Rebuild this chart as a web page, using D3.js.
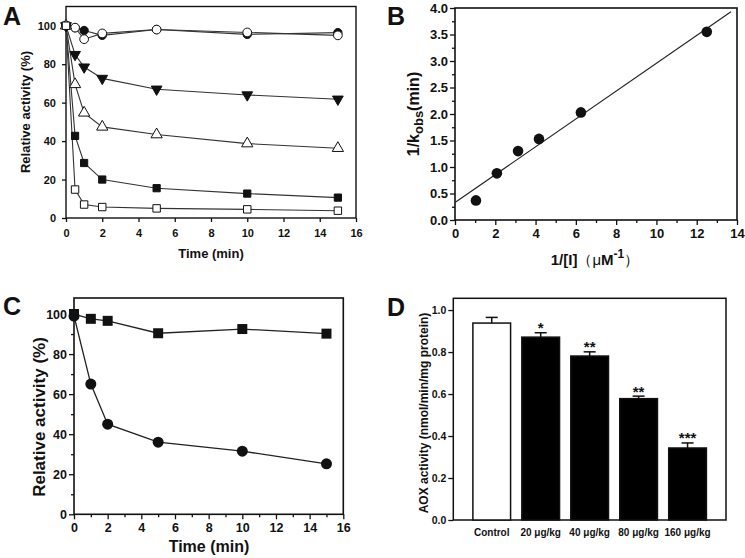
<!DOCTYPE html>
<html><head><meta charset="utf-8">
<script src="https://cdn.jsdelivr.net/npm/d3@7"></script>
<style>body{margin:0;background:#fff}svg{display:block}text{font-family:"Liberation Sans",Arial,sans-serif}</style>
</head><body>
<script>
// ---- Panel A data ----
const timeA = [0, 0.5, 1, 2, 5, 10, 15];
const aFilledCircle = [100, 99, 97.5, 95, 98, 95.5, 96.4];
const aOpenCircle = [100, 99, 93, 96, 98, 96.5, 95];
const aFilledDown = [100, 85, 78.5, 72.6, 67, 64, 61.8];
const aOpenUp = [100, 69.5, 54.7, 47.4, 43.4, 38.7, 36.3];
const aFilledSquare = [100, 42.7, 28.6, 20, 15.5, 12.7, 10.6];
const aOpenSquare = [100, 14.8, 7, 5.7, 5, 4.5, 3.8];
const ticksA_x = [0, 2, 4, 6, 8, 10, 12, 14, 16];
const ticksA_y = [0, 20, 40, 60, 80, 100];
// ---- Panel B data ----
const invI = [1.04, 2.08, 3.13, 4.17, 6.25, 12.5];
const invK = [0.37, 0.88, 1.30, 1.53, 2.03, 3.55];
const fitX = [0, 13.7];
const fitY = [0.33, 3.93];
const ticksB_x = [0, 2, 4, 6, 8, 10, 12, 14];
const ticksB_y = [0, 0.5, 1, 1.5, 2, 2.5, 3, 3.5, 4];
// ---- Panel C data ----
const timeC = [0, 1, 2, 5, 10, 15];
const cSquare = [100, 97.6, 96.6, 90.4, 92.5, 90.2];
const cCircle = [99, 65, 45, 36, 31.5, 25.2];
const ticksC_x = [0, 2, 4, 6, 8, 10, 12, 14, 16];
const ticksC_y = [0, 20, 40, 60, 80, 100];
// ---- Panel D data ----
const groupsD = ["Control", "20 μg/kg", "40 μg/kg", "80 μg/kg", "160 μg/kg"];
const valuesD = [0.938, 0.871, 0.781, 0.578, 0.343];
const errorsD = [0.027, 0.021, 0.02, 0.012, 0.024];
const sigD = ["", "*", "**", "**", "***"];
const ticksD_y = [0, 0.2, 0.4, 0.6, 0.8, 1.0];

const W = 745, H = 558;
const svg = d3.select("body").append("svg").attr("width", W).attr("height", H);
svg.append("rect").attr("width", W).attr("height", H).attr("fill", "#fff");

function frame(x, y) {
  const [x0, x1] = x.range ? (Array.isArray(x) ? x : x.range()) : x;
  return null;
}
function box(g, x0, x1, y0, y1, sw) {
  g.append("rect").attr("x", x0).attr("y", y1).attr("width", x1 - x0).attr("height", y0 - y1)
    .attr("fill", "none").attr("stroke", "#111").attr("stroke-width", sw);
}
function styleAxis(sel, fs) {
  sel.select(".domain").remove();
  sel.selectAll("line").attr("stroke", "#111").attr("stroke-width", 1.3);
  sel.selectAll("text").attr("font-size", fs).attr("font-weight", "bold").attr("fill", "#111")
    .attr("font-family", '"Liberation Sans",Arial,sans-serif');
}
function letter(t, x, y) {
  svg.append("text").attr("x", x).attr("y", y).text(t).attr("font-size", 25).attr("font-weight", "bold").attr("fill", "#111");
}

// ================= Panel A =================
{
  const x = d3.scaleLinear().domain([0, 16]).range([66, 356]);
  const y = d3.scaleLinear().domain([0, 110]).range([218, 6.5]);
  const g = svg.append("g");
  g.append("g").attr("transform", `translate(0,${y(0)})`)
    .call(d3.axisBottom(x).tickValues(ticksA_x).tickFormat(d3.format("d")).tickSize(4).tickPadding(7))
    .call(s => styleAxis(s, 11));
  g.append("g").attr("transform", `translate(${x(0)},0)`)
    .call(d3.axisLeft(y).tickValues(ticksA_y).tickSize(4).tickPadding(6))
    .call(s => styleAxis(s, 11));
  box(g, x(0), x(16), y(0), y(110), 1.4);
  const series = [
    {v: aFilledCircle, sym: d3.symbolCircle, size: 55, fill: "#111", rot: 0},
    {v: aOpenCircle, sym: d3.symbolCircle, size: 60, fill: "#fff", rot: 0},
    {v: aFilledDown, sym: d3.symbolTriangle, size: 50, fill: "#111", rot: 180},
    {v: aOpenUp, sym: d3.symbolTriangle, size: 55, fill: "#fff", rot: 0},
    {v: aFilledSquare, sym: d3.symbolSquare, size: 52, fill: "#111", rot: 0},
    {v: aOpenSquare, sym: d3.symbolSquare, size: 55, fill: "#fff", rot: 0}
  ];
  const line = d3.line().x((d, i) => x(timeA[i])).y(d => y(d));
  series.forEach(s => {
    g.append("path").attr("d", line(s.v)).attr("fill", "none").attr("stroke", "#333").attr("stroke-width", 1.1);
  });
  series.forEach(s => {
    g.selectAll(null).data(s.v).enter().append("path")
      .attr("d", d3.symbol(s.sym, s.size))
      .attr("transform", (d, i) => `translate(${x(timeA[i])},${y(d)}) rotate(${s.rot})`)
      .attr("fill", s.fill).attr("stroke", "#111").attr("stroke-width", 1);
  });
  g.append("text").attr("x", 211).attr("y", 258).attr("text-anchor", "middle").attr("font-size", 13)
    .attr("font-weight", "bold").attr("fill", "#111").text("Time (min)");
  g.append("text").attr("transform", "translate(30,112) rotate(-90)").attr("text-anchor", "middle").attr("font-size", 13)
    .attr("font-weight", "bold").attr("fill", "#111").text("Relative activity (%)");
  letter("A", 3, 25);
}

// ================= Panel B =================
{
  const x = d3.scaleLinear().domain([0, 14]).range([455, 737]);
  const y = d3.scaleLinear().domain([0, 4]).range([220, 8]);
  const g = svg.append("g");
  g.append("g").attr("transform", `translate(0,${y(0)})`)
    .call(d3.axisBottom(x).tickValues(d3.range(1, 14, 2)).tickSize(3).tickFormat(""))
    .call(s => styleAxis(s, 12));
  g.append("g").attr("transform", `translate(0,${y(0)})`)
    .call(d3.axisBottom(x).tickValues(ticksB_x).tickFormat(d3.format("d")).tickSize(5).tickPadding(4))
    .call(s => styleAxis(s, 13));
  g.append("g").attr("transform", `translate(${x(0)},0)`)
    .call(d3.axisLeft(y).tickValues(d3.range(0.25, 4, 0.5)).tickSize(3).tickFormat(""))
    .call(s => styleAxis(s, 12));
  g.append("g").attr("transform", `translate(${x(0)},0)`)
    .call(d3.axisLeft(y).tickValues(ticksB_y).tickFormat(d3.format(".1f")).tickSize(5).tickPadding(2))
    .call(s => styleAxis(s, 13));
  box(g, x(0), x(14), y(0), y(4), 1.6);
  g.append("path").attr("d", d3.line().x((d, i) => x(fitX[i])).y(d => y(d))(fitY))
    .attr("fill", "none").attr("stroke", "#222").attr("stroke-width", 1.2);
  g.selectAll(null).data(invK).enter().append("circle")
    .attr("cx", (d, i) => x(invI[i])).attr("cy", d => y(d)).attr("r", 5.3).attr("fill", "#111");
  const yl = g.append("text").attr("transform", "translate(419,114) rotate(-90)").attr("text-anchor", "middle")
    .attr("font-size", 16).attr("font-weight", "bold").attr("fill", "#111");
  yl.append("tspan").text("1/k");
  yl.append("tspan").attr("font-size", 13).attr("dy", 4).text("obs");
  yl.append("tspan").attr("dy", -4).text("(min)");
  const xl = g.append("text").attr("x", 595).attr("y", 265).attr("text-anchor", "middle")
    .attr("font-size", 15).attr("font-weight", "bold").attr("fill", "#111");
  xl.append("tspan").text("1/[I]");
  xl.append("tspan").attr("font-weight", "normal").text("（μ");
  xl.append("tspan").text("M");
  xl.append("tspan").attr("dy", -7).attr("font-size", 12).text("-1");
  xl.append("tspan").attr("dy", 7).attr("font-weight", "normal").text("）");
  letter("B", 387, 25);
}

// ================= Panel C =================
{
  const x = d3.scaleLinear().domain([0, 16]).range([74, 343.3]);
  const y = d3.scaleLinear().domain([0, 108]).range([514.3, 298]);
  const g = svg.append("g");
  g.append("g").attr("transform", `translate(0,${y(0)})`)
    .call(d3.axisBottom(x).tickValues(d3.range(1, 16, 2)).tickSize(3).tickFormat(""))
    .call(s => styleAxis(s, 12));
  g.append("g").attr("transform", `translate(0,${y(0)})`)
    .call(d3.axisBottom(x).tickValues(ticksC_x).tickFormat(d3.format("d")).tickSize(5).tickPadding(4))
    .call(s => styleAxis(s, 12.5));
  g.append("g").attr("transform", `translate(${x(0)},0)`)
    .call(d3.axisLeft(y).tickValues(d3.range(10, 101, 20)).tickSize(3).tickFormat(""))
    .call(s => styleAxis(s, 12));
  g.append("g").attr("transform", `translate(${x(0)},0)`)
    .call(d3.axisLeft(y).tickValues(ticksC_y).tickSize(5).tickPadding(2))
    .call(s => styleAxis(s, 12.5));
  box(g, x(0), x(16), y(0), y(108), 1.6);
  const line = d3.line().x((d, i) => x(timeC[i])).y(d => y(d));
  [cSquare, cCircle].forEach(v => g.append("path").attr("d", line(v)).attr("fill", "none")
    .attr("stroke", "#222").attr("stroke-width", 1.3));
  g.selectAll(null).data(cSquare).enter().append("path").attr("d", d3.symbol(d3.symbolSquare, 100))
    .attr("transform", (d, i) => `translate(${x(timeC[i])},${y(d)})`).attr("fill", "#111");
  g.selectAll(null).data(cCircle).enter().append("circle")
    .attr("cx", (d, i) => x(timeC[i])).attr("cy", d => y(d)).attr("r", 5.5).attr("fill", "#111");
  g.append("text").attr("x", 209).attr("y", 552).attr("text-anchor", "middle").attr("font-size", 16)
    .attr("font-weight", "bold").attr("fill", "#111").text("Time (min)");
  g.append("text").attr("transform", "translate(45,417) rotate(-90)").attr("text-anchor", "middle").attr("font-size", 17)
    .attr("font-weight", "bold").attr("fill", "#111").text("Relative activity (%)");
  letter("C", 3, 315);
}

// ================= Panel D =================
{
  const x = d3.scaleBand().domain(groupsD).range([453.3, 726]).paddingInner(0.23).paddingOuter(0.4);
  const y = d3.scaleLinear().domain([0, 1.056]).range([520, 298.3]);
  const g = svg.append("g");
  g.append("g").attr("transform", `translate(453.3,0)`)
    .call(d3.axisLeft(y).tickValues(ticksD_y).tickFormat(d3.format(".1f")).tickSize(5).tickPadding(2))
    .call(s => styleAxis(s, 10.5));
  box(g, 453.3, 726, y(0), y(1.056), 1.5);
  g.selectAll(null).data(groupsD).enter().append("rect")
    .attr("x", d => x(d)).attr("width", x.bandwidth())
    .attr("y", (d, i) => y(valuesD[i])).attr("height", (d, i) => y(0) - y(valuesD[i]))
    .attr("fill", (d, i) => i === 0 ? "#fff" : "#000").attr("stroke", "#111").attr("stroke-width", 1.5);
  groupsD.forEach((d, i) => {
    const cx = x(d) + x.bandwidth() / 2;
    const top = y(valuesD[i] + errorsD[i]);
    g.append("line").attr("x1", cx).attr("x2", cx).attr("y1", y(valuesD[i])).attr("y2", top)
      .attr("stroke", "#111").attr("stroke-width", 1.5);
    g.append("line").attr("x1", cx - 6).attr("x2", cx + 6).attr("y1", top).attr("y2", top)
      .attr("stroke", "#111").attr("stroke-width", 1.5);
    if (sigD[i]) g.append("text").attr("x", cx).attr("y", top + 0.5).attr("text-anchor", "middle")
      .attr("font-size", 15).attr("font-weight", "bold").attr("fill", "#111").text(sigD[i]);
    g.append("text").attr("x", cx).attr("y", 536).attr("text-anchor", "middle").attr("font-size", 10)
      .attr("font-weight", "bold").attr("fill", "#111").text(d);
  });
  g.append("text").attr("transform", "translate(428,413) rotate(-90)").attr("text-anchor", "middle").attr("font-size", 12)
    .attr("font-weight", "bold").attr("fill", "#111").text("AOX activity (nmol/min/mg protein)");
  letter("D", 387, 316);
}
</script>
</body></html>
